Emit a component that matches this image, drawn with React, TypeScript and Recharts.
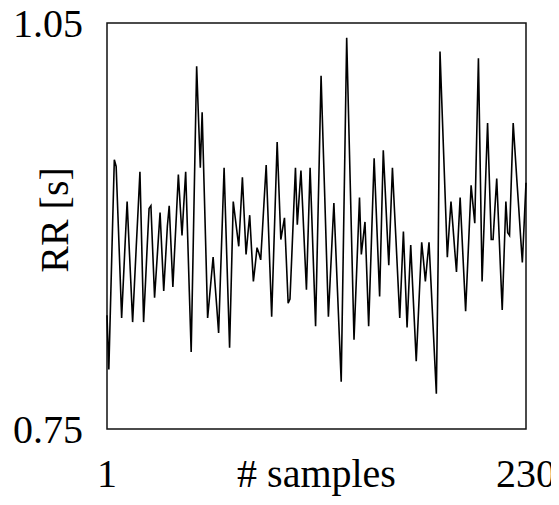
import { LineChart, Line, XAxis, YAxis, ReferenceArea, Label } from 'recharts'

// RR interval series, one value per sample
const rrValues = [
  0.834, 0.794, 0.846, 0.898, 0.949, 0.944, 0.907, 0.870, 0.832, 0.861,
  0.890, 0.918, 0.888, 0.859, 0.829, 0.857, 0.885, 0.912, 0.940, 0.885,
  0.829, 0.857, 0.886, 0.913, 0.915, 0.881, 0.847, 0.868, 0.889, 0.910,
  0.881, 0.852, 0.876, 0.900, 0.915, 0.885, 0.855, 0.883, 0.910, 0.938,
  0.915, 0.893, 0.917, 0.940, 0.896, 0.851, 0.807, 0.877, 0.948, 1.018,
  0.980, 0.943, 0.984, 0.933, 0.883, 0.832, 0.847, 0.862, 0.877, 0.858,
  0.840, 0.821, 0.862, 0.902, 0.943, 0.898, 0.854, 0.810, 0.864, 0.918,
  0.907, 0.896, 0.885, 0.910, 0.936, 0.907, 0.879, 0.894, 0.908, 0.883,
  0.859, 0.871, 0.884, 0.880, 0.875, 0.898, 0.922, 0.945, 0.908, 0.870,
  0.833, 0.876, 0.919, 0.962, 0.926, 0.890, 0.898, 0.906, 0.875, 0.843,
  0.846, 0.878, 0.911, 0.943, 0.901, 0.921, 0.941, 0.912, 0.882, 0.853,
  0.898, 0.943, 0.904, 0.865, 0.826, 0.888, 0.949, 1.011, 0.966, 0.922,
  0.877, 0.833, 0.861, 0.889, 0.917, 0.884, 0.851, 0.818, 0.785, 0.870,
  0.954, 1.039, 0.983, 0.928, 0.872, 0.816, 0.851, 0.886, 0.921, 0.879,
  0.891, 0.903, 0.865, 0.826, 0.867, 0.909, 0.950, 0.916, 0.882, 0.848,
  0.902, 0.956, 0.928, 0.899, 0.871, 0.907, 0.943, 0.915, 0.888, 0.860,
  0.832, 0.864, 0.896, 0.861, 0.825, 0.856, 0.886, 0.857, 0.829, 0.800,
  0.829, 0.859, 0.888, 0.874, 0.859, 0.874, 0.888, 0.860, 0.832, 0.804,
  0.776, 0.877, 1.029, 0.991, 0.953, 0.915, 0.877, 0.898, 0.918, 0.901,
  0.883, 0.866, 0.894, 0.921, 0.893, 0.865, 0.837, 0.868, 0.899, 0.930,
  0.916, 0.902, 0.963, 1.024, 0.942, 0.859, 0.898, 0.937, 0.976, 0.933,
  0.890, 0.890, 0.913, 0.935, 0.903, 0.870, 0.838, 0.878, 0.918, 0.895,
  0.893, 0.935, 0.976, 0.955, 0.934, 0.914, 0.893, 0.873, 0.902, 0.932,
]

const xTicks = [1, 230]
const yTicks = [0.75, 1.05]

const data = rrValues.map((rr, i) => ({ sample: i + 1, rr }))

const font = { fontFamily: '"Liberation Serif", "Times New Roman", serif', fontSize: 40, fill: '#000' }

export default function App() {
  return (
    <div style={{ margin: -8 }}>
      <LineChart
        width={559}
        height={505}
        data={data}
        margin={{ top: 23, right: 33, bottom: 0, left: 0 }}
      >
        <XAxis
          dataKey="sample"
          type="number"
          domain={[1, 230]}
          ticks={xTicks}
          height={76}
          tick={font}
          tickSize={0}
          tickMargin={30}
          axisLine={false}
          tickLine={false}
          interval={0}
        >
          <Label value="# samples" position="insideBottom" offset={18} style={font} />
        </XAxis>
        <YAxis
          type="number"
          domain={[0.75, 1.05]}
          ticks={yTicks}
          width={107}
          tick={font}
          tickSize={0}
          tickMargin={24}
          axisLine={false}
          tickLine={false}
          interval={0}
          tickFormatter={(v: number) => v.toFixed(2)}
        >
          <Label
            content={() => (
              <text
                x={54}
                y={220}
                transform="rotate(-90 54 220)"
                textAnchor="middle"
                dominantBaseline="central"
                style={font}
              >
                RR [s]
              </text>
            )}
          />
        </YAxis>
        <ReferenceArea
          x1={1}
          x2={230}
          y1={0.75}
          y2={1.05}
          fill="none"
          stroke="#111"
          strokeWidth={1.5}
          ifOverflow="visible"
        />
        <Line
          type="linear"
          dataKey="rr"
          stroke="#000"
          strokeWidth={1.6}
          dot={false}
          isAnimationActive={false}
        />
      </LineChart>
    </div>
  )
}
